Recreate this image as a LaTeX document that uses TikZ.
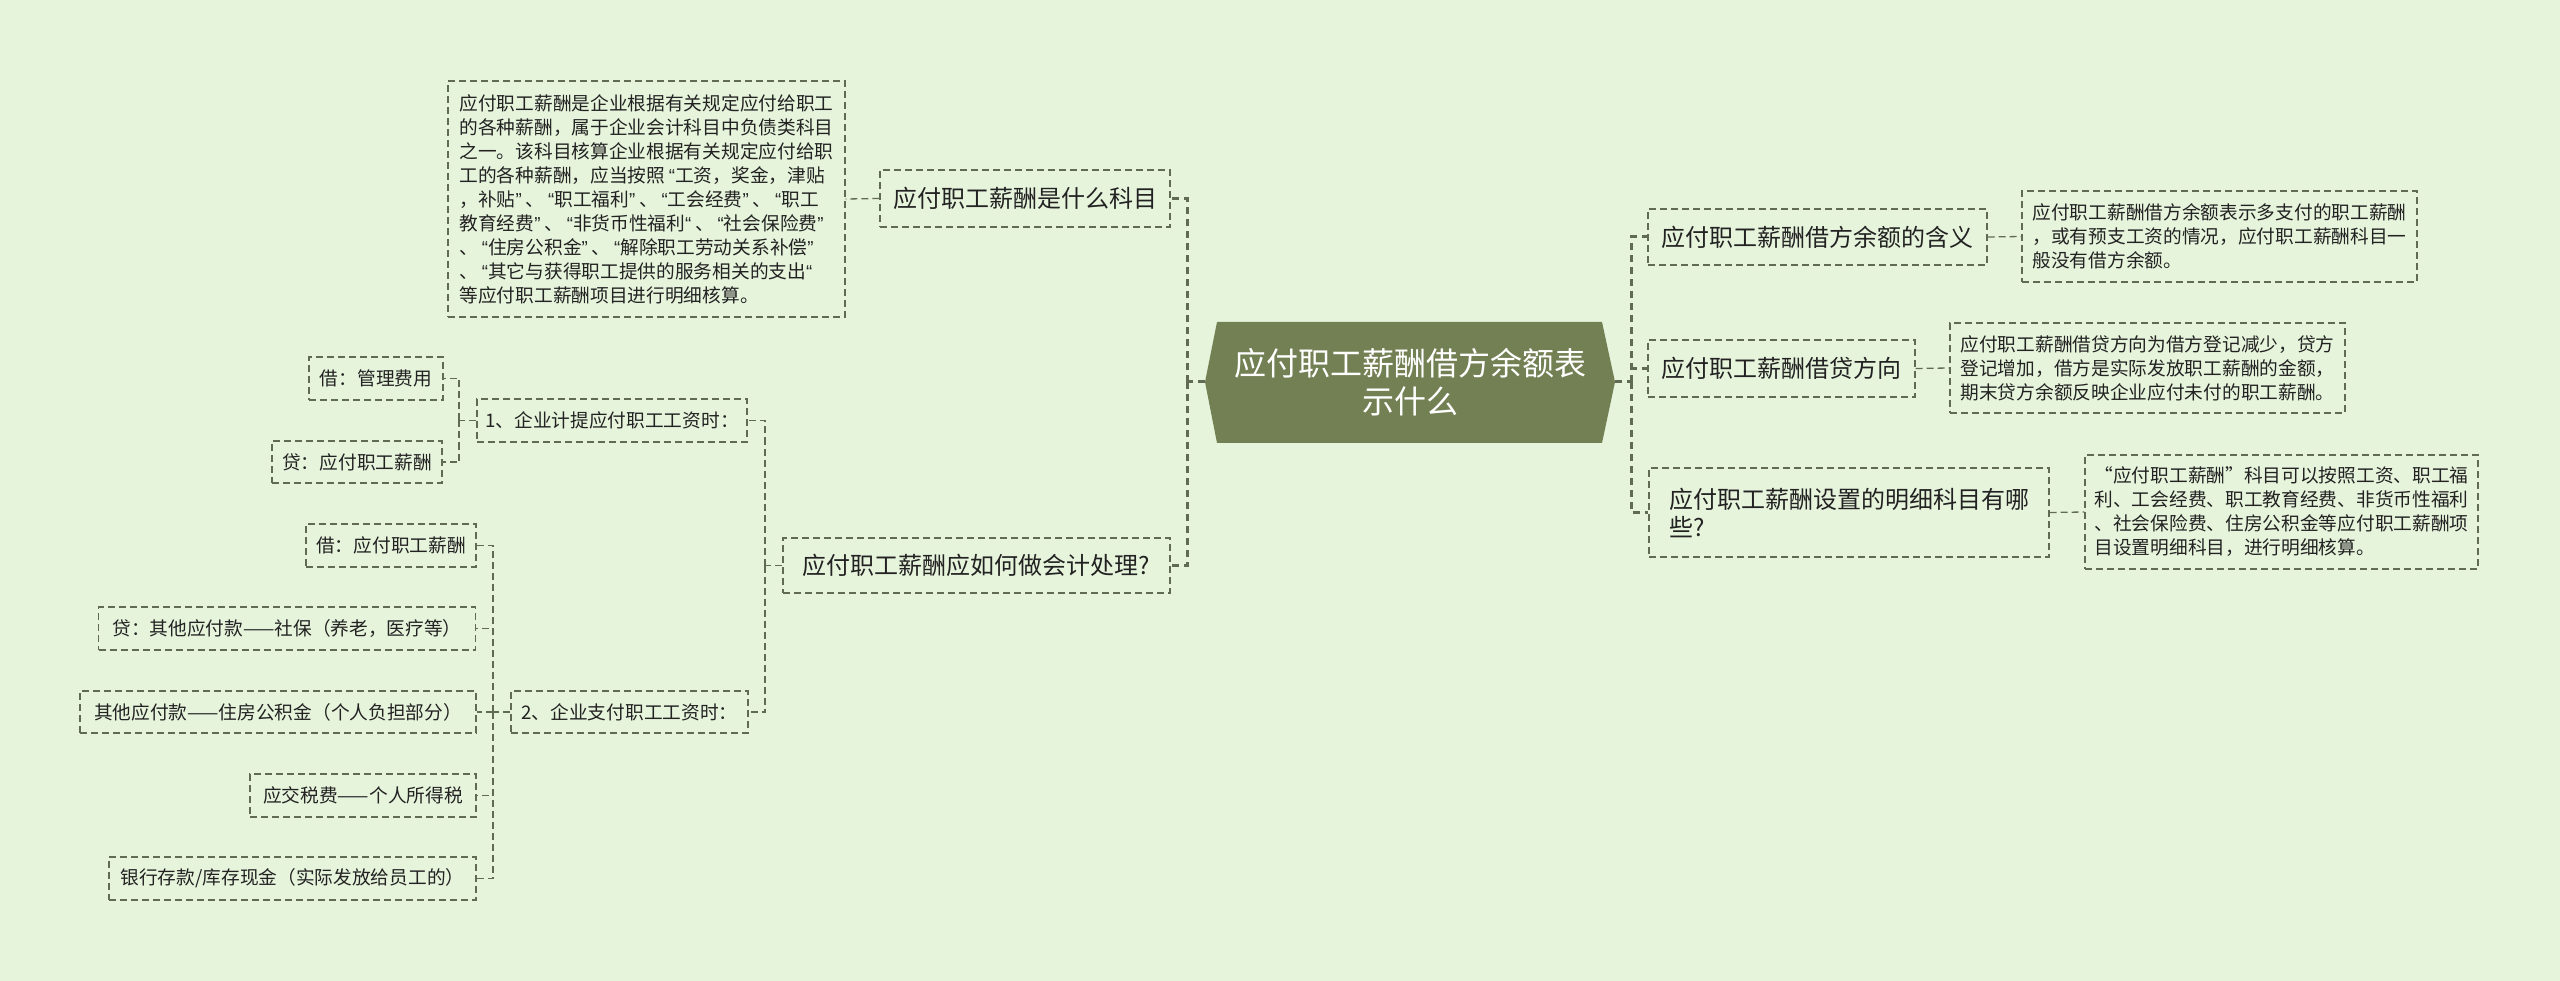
\documentclass[tikz,border=0pt]{standalone}
\usepackage{fontspec}
\usepackage{xcolor}
\usepackage{tikz}
\usetikzlibrary{calc}
\setmainfont{Noto Sans CJK SC}
\newfontfamily\qtfont{Liberation Sans}
\newcommand{\qo}[1]{\makebox[10pt][r]{\qtfont #1}}
\newcommand{\qc}[1]{\makebox[10pt][l]{\qtfont #1}}
\definecolor{bgc}{RGB}{231,244,220}
\definecolor{linec}{RGB}{96,106,84}
\definecolor{rootc}{RGB}{115,128,84}
\definecolor{txtc}{RGB}{34,34,34}
\tikzset{
  leaf/.style={draw=linec, line width=1.3pt, dash pattern=on 7pt off 4pt, text=txtc,
    inner sep=0pt, align=left, font=\fontsize{18.7}{24}\selectfont},
  topic/.style={leaf, font=\fontsize{24}{28}\selectfont},
  link/.style={draw=linec, line width=1.3pt, dash pattern=on 7pt off 4pt},
  mainlink/.style={draw=linec, line width=3pt, dash pattern=on 7pt off 5pt},
}

\begin{document}
\begin{tikzpicture}[x=1pt, y=-1pt]
    \fill[bgc] (0,0) rectangle (2560,981);
    % root
    \coordinate (rootW) at (1205,382);
    \coordinate (rootE) at (1615,382);
    \fill[rootc] (rootW) -- (1217,322) -- (1602,322) -- (rootE) -- (1602,443) -- (1217,443) -- cycle;
    \node[text=white, align=center, font=\fontsize{32}{38}\selectfont] (root) at (1410,382) {应付职工薪酬借方余额表\\示什么};
    % right side
    \node[topic, minimum width=339, minimum height=56] (R1) at (1817.5,237) {应付职工薪酬借方余额的含义};
    \node[topic, minimum width=267, minimum height=57] (R2) at (1781.5,368.5) {应付职工薪酬借贷方向};
    \node[topic, minimum width=400, minimum height=89] (R3) at (1849,512.5) {应付职工薪酬设置的明细科目有哪\\些?};
    \node[leaf, minimum width=395, minimum height=91] (R1a) at (2219.5,236.5) {应付职工薪酬借方余额表示多支付的职工薪酬\\，或有预支工资的情况，应付职工薪酬科目一\\般没有借方余额。};
    \node[leaf, minimum width=395, minimum height=90] (R2a) at (2147.5,368) {应付职工薪酬借贷方向为借方登记减少，贷方\\登记增加，借方是实际发放职工薪酬的金额，\\期末贷方余额反映企业应付未付的职工薪酬。};
    \node[leaf, minimum width=393, minimum height=114] (R3a) at (2281.5,512) {“应付职工薪酬”科目可以按照工资、职工福\\利、工会经费、职工教育经费、非货币性福利\\、社会保险费、住房公积金等应付职工薪酬项\\目设置明细科目，进行明细核算。};
    \coordinate (TR) at (1631,382);
    \draw[mainlink] (rootE) -- (TR);
    \draw[mainlink] (TR) |- (R1.west);
    \draw[mainlink] (TR) |- (R2.west);
    \draw[mainlink] (TR) |- (R3.west);
    \draw[link] (R1.east) -- (R1a.west);
    \draw[link] (R2.east) -- (R2a.west);
    \draw[link] (R3.east) -- (R3a.west);
    % left side
    \node[topic, minimum width=290, minimum height=57] (L1) at (1025,198.5) {应付职工薪酬是什么科目};
    \node[leaf, minimum width=397, minimum height=236] (L1a) at (646.5,199) {应付职工薪酬是企业根据有关规定应付给职工\\的各种薪酬，属于企业会计科目中负债类科目\\之一。该科目核算企业根据有关规定应付给职\\工的各种薪酬，应当按照\qo{“}工资，奖金，津贴\\，补贴\qc{”}、\qo{“}职工福利\qc{”}、\qo{“}工会经费\qc{”}、\qo{“}职工\\教育经费\qc{”}、\qo{“}非货币性福利\qc{“}、\qo{“}社会保险费\qc{”}\\、\qo{“}住房公积金\qc{”}、\qo{“}解除职工劳动关系补偿\qc{”}\\、\qo{“}其它与获得职工提供的服务相关的支出\qc{“}\\等应付职工薪酬项目进行明细核算。};
    \node[topic, minimum width=387, minimum height=55] (L2) at (976.5,565.5) {应付职工薪酬应如何做会计处理?};
    \coordinate (TL) at (1187,382);
    \draw[mainlink] (rootW) -- (TL);
    \draw[mainlink] (TL) |- (L1.east);
    \draw[mainlink] (TL) |- (L2.east);
    \draw[link] (L1.west) -- (L1a.east);
    % accounting entries
    \node[leaf, minimum width=270, minimum height=43] (M1) at (612,420.5) {1、企业计提应付职工工资时：};
    \node[leaf, minimum width=237, minimum height=42] (M2) at (629.5,712) {2、企业支付职工工资时：};
    \coordinate (T2) at (765,565.5);
    \draw[link] (L2.west) -- (T2);
    \draw[link] (T2) |- (M1.east);
    \draw[link] (T2) |- (M2.east);
    \node[leaf, minimum width=134, minimum height=43] (A1) at (376,378.5) {借：管理费用};
    \node[leaf, minimum width=170, minimum height=42] (A2) at (357,462) {贷：应付职工薪酬};
    \coordinate (T3) at (459,420.5);
    \draw[link] (M1.west) -- (T3);
    \draw[link] (T3) |- (A1.east);
    \draw[link] (T3) |- (A2.east);
    \node[leaf, minimum width=170, minimum height=43] (C1) at (391,545.5) {借：应付职工薪酬};
    \node[leaf, minimum width=377, minimum height=43] (C2) at (287,628.5) {贷：其他应付款——社保（养老，医疗等）};
    \node[leaf, minimum width=396, minimum height=42] (C3) at (278,712) {其他应付款——住房公积金（个人负担部分）};
    \node[leaf, minimum width=226, minimum height=43] (C4) at (363,795.5) {应交税费——个人所得税};
    \node[leaf, minimum width=367, minimum height=43] (C5) at (292.5,878.5) {银行存款/库存现金（实际发放给员工的）};
    \coordinate (T4) at (493,712);
    \draw[link] (M2.west) -- (T4);
    \draw[link] (T4) |- (C1.east);
    \draw[link] (T4) |- (C2.east);
    \draw[link] (T4) |- (C3.east);
    \draw[link] (T4) |- (C4.east);
    \draw[link] (T4) |- (C5.east);
\end{tikzpicture}
\end{document}
